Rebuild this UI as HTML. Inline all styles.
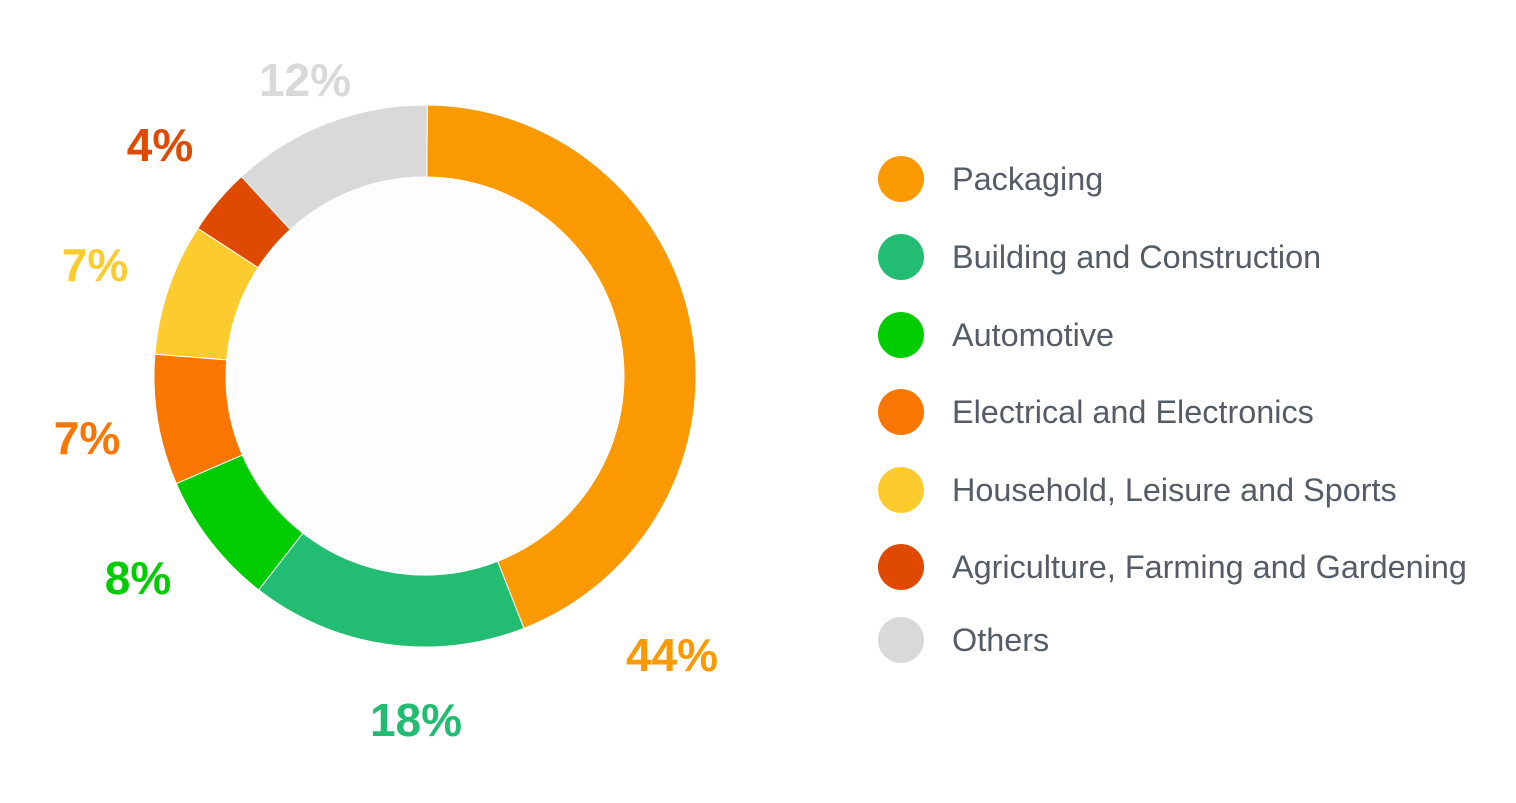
<!DOCTYPE html>
<html><head><meta charset="utf-8"><style>
body{margin:0;background:#fff;width:1516px;height:798px;overflow:hidden;font-family:"Liberation Sans",sans-serif}
</style></head><body>
<svg id="chart" width="1516" height="798" xmlns="http://www.w3.org/2000/svg">
<g id="slices"></g>
<g id="labels"></g>
<g id="legend"></g>
</svg>
<script>
const categories = ["Packaging","Building and Construction","Automotive","Electrical and Electronics","Household, Leisure and Sports","Agriculture, Farming and Gardening","Others"];
const values = [44, 16.5, 8, 7.8, 7.9, 4, 12];
const valueLabels = ["44%","18%","8%","7%","7%","4%","12%"];
const colors = ["#FB9900","#22BD73","#00CC00","#F97700","#FCCC2E","#E04A00","#D9D9D9"];
// label placement (style, not data)
const labelX = [672,416,138,87,95,160,305];
const labelY = [655,720,578,438,265,145,80];
const NS="http://www.w3.org/2000/svg";
const cx=425,cy=376,R=271,r=199,start=0.5;
const total=values.reduce((a,b)=>a+b,0);
function pt(a,rad){const t=a*Math.PI/180;return [cx+rad*Math.sin(t),cy-rad*Math.cos(t)];}
let a0=start;
const sg=document.getElementById('slices'),lg=document.getElementById('labels'),leg=document.getElementById('legend');
values.forEach((v,i)=>{
  const a1=a0+v/total*360;
  const [x1,y1]=pt(a0,R),[x2,y2]=pt(a1,R),[x3,y3]=pt(a1,r),[x4,y4]=pt(a0,r);
  const lf=(a1-a0)>180?1:0;
  const p=document.createElementNS(NS,'path');
  p.setAttribute('d',`M${x1},${y1}A${R},${R} 0 ${lf} 1 ${x2},${y2}L${x3},${y3}A${r},${r} 0 ${lf} 0 ${x4},${y4}Z`);
  p.setAttribute('fill',colors[i]);p.setAttribute('stroke','#fff');p.setAttribute('stroke-width','1');
  
  
  sg.appendChild(p);
  const t=document.createElementNS(NS,'text');
  t.setAttribute('x',labelX[i]);t.setAttribute('y',labelY[i]+16);t.setAttribute('text-anchor','middle');
  t.setAttribute('font-size','46');t.setAttribute('font-weight','bold');t.setAttribute('fill',colors[i]);
  t.textContent=valueLabels[i];
  
  
  lg.appendChild(t);
  a0=a1;
});
const inner=document.createElementNS(NS,'circle');
inner.setAttribute('cx',cx);inner.setAttribute('cy',cy);inner.setAttribute('r',r-0.5);inner.setAttribute('fill','#fdfdfd');


sg.appendChild(inner);
const ly=[179,257,335,412,490,567,640];
categories.forEach((c,i)=>{
  const g=document.createElementNS(NS,'g');
  
  
  const ci=document.createElementNS(NS,'circle');
  ci.setAttribute('cx',901);ci.setAttribute('cy',ly[i]);ci.setAttribute('r',23);ci.setAttribute('fill',colors[i]);
  const t=document.createElementNS(NS,'text');
  t.setAttribute('x',952);t.setAttribute('y',ly[i]+11);t.setAttribute('font-size','32.4');t.setAttribute('fill','#555c66');
  t.textContent=c;
  g.appendChild(ci);g.appendChild(t);leg.appendChild(g);
});
</script>
</body></html>
